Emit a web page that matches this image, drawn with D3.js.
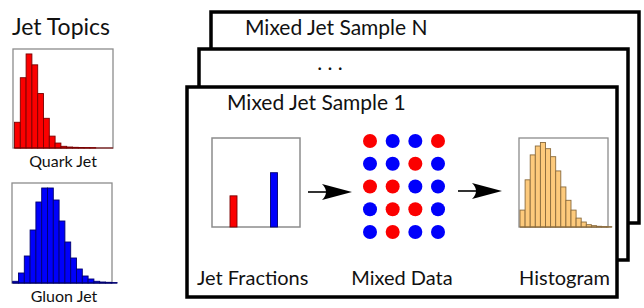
<!DOCTYPE html>
<head>
  <meta charset="utf-8">
  <script src="https://d3js.org/d3.v7.min.js"></script>
  <style>
    body { margin:0; background:#fff; }
    text { font-family: Lato, "Open Sans", sans-serif; fill:#111; }
  </style>
</head>
<body>
  <svg width="644" height="308"></svg>
  <script>
    // bin heights (percent of the panel height)
    var quarkCounts = [26, 71, 95, 84, 55, 30, 12, 5, 1.7, 1, 0.7, 0.5, 0.4, 0.3, 0, 0, 0];
    var gluonCounts = [1.7, 10, 27, 53, 81, 95, 95, 83, 62, 41, 25, 14, 7, 4, 1.7, 1, 0.7, 0.4];
    var mixedCounts = [19, 53, 81, 91, 95, 88, 79, 63, 45, 30, 19, 10, 5.6, 2.6, 1.5, 0.8, 0.4, 0.3];

    var fractionNames = ["quark", "gluon"];
    var fractionValues = [0.35, 0.61];

    // mixed data grid, q = quark (red), g = gluon (blue)
    var dotRows = [
      ["q", "g", "g", "q"],
      ["g", "g", "q", "g"],
      ["q", "q", "g", "g"],
      ["g", "q", "q", "g"],
      ["g", "q", "g", "g"]
    ];

    var sampleTitles = ["Mixed Jet Sample N", ". . .", "Mixed Jet Sample 1"];
    var stepLabels = ["Jet Fractions", "Mixed Data", "Histogram"];

    var red = "#fb0000", blue = "#0000fb";
    var svg = d3.select("svg");

    // ---- jet topics on the left
    svg.append("text").attr("x", 12).attr("y", 35)
      .style("font-size", "23px").text("Jet Topics");

    function histo(g, counts, box, start, bw, fill, stroke) {
      var x = d3.scaleLinear().domain([0, counts.length]).range([start, start + counts.length * bw]);
      var y = d3.scaleLinear().domain([0, 100]).range([box.y + box.h, box.y]);
      g.append("rect").attr("x", box.x).attr("y", box.y)
        .attr("width", box.w).attr("height", box.h)
        .attr("fill", "#fff").attr("stroke", "#8c8c8c").attr("stroke-width", 1.3);
      g.selectAll(".bin").data(counts).enter().append("rect")
        .attr("x", function(d, i) { return x(i); })
        .attr("y", function(d) { return y(d); })
        .attr("width", bw)
        .attr("height", function(d) { return y(0) - y(d); })
        .attr("fill", fill).attr("stroke", stroke).attr("stroke-width", 0.9);
      g.append("line").attr("x1", start).attr("x2", x(counts.length))
        .attr("y1", y(0)).attr("y2", y(0)).attr("stroke", stroke).attr("stroke-width", 1);
    }

    histo(svg.append("g"), quarkCounts, {x: 13, y: 49, w: 100, h: 99}, 14.5, 5.8, red, "#7a0000");
    svg.append("text").attr("x", 63).attr("y", 167).attr("text-anchor", "middle")
      .style("font-size", "16px").text("Quark Jet");

    histo(svg.append("g"), gluonCounts, {x: 12, y: 183, w: 100, h: 100}, 12.7, 5.8, blue, "#00006e");
    svg.append("text").attr("x", 64).attr("y", 302).attr("text-anchor", "middle")
      .style("font-size", "16px").text("Gluon Jet");

    // ---- stacked sample frames
    var frames = [
      {x: 211, y: 12, x2: 639, y2: 223},
      {x: 199, y: 49, x2: 628, y2: 260},
      {x: 187, y: 87, x2: 617, y2: 297}
    ];
    frames.forEach(function(f, i) {
      svg.append("rect").attr("x", f.x).attr("y", f.y)
        .attr("width", f.x2 - f.x).attr("height", f.y2 - f.y)
        .attr("fill", "#fff").attr("stroke", "#000").attr("stroke-width", 3.5);
    });
    svg.append("text").attr("x", 245).attr("y", 35).style("font-size", "21px").text(sampleTitles[0]);
    svg.append("text").attr("x", 330).attr("y", 70).attr("text-anchor", "middle")
      .style("font-size", "21px").text(sampleTitles[1]);
    svg.append("text").attr("x", 227).attr("y", 110).style("font-size", "21px").text(sampleTitles[2]);

    // ---- jet fractions
    var fr = svg.append("g");
    var fx = d3.scalePoint().domain(fractionNames).range([233.5, 274]);
    var fy = d3.scaleLinear().domain([0, 1]).range([227, 138]);
    fr.append("rect").attr("x", 212).attr("y", 138).attr("width", 88).attr("height", 89)
      .attr("fill", "#fff").attr("stroke", "#8c8c8c").attr("stroke-width", 1.5);
    fr.selectAll(".frac").data(fractionValues).enter().append("rect")
      .attr("x", function(d, i) { return fx(fractionNames[i]) - 3.5; })
      .attr("y", function(d) { return fy(d); })
      .attr("width", 7)
      .attr("height", function(d) { return fy(0) - fy(d); })
      .attr("fill", function(d, i) { return i == 0 ? red : blue; })
      .attr("stroke", function(d, i) { return i == 0 ? "#7a0000" : "#00006e"; })
      .attr("stroke-width", 0.9);

    // ---- arrows
    function arrow(x1, x2, y) {
      svg.append("line").attr("x1", x1).attr("x2", x2 - 20).attr("y1", y).attr("y2", y)
        .attr("stroke", "#000").attr("stroke-width", 1.6);
      svg.append("path")
        .attr("d", "M" + x2 + "," + y + " L" + (x2 - 30) + "," + (y - 8) +
          " Q" + (x2 - 22) + "," + y + " " + (x2 - 30) + "," + (y + 8) + " Z")
        .attr("fill", "#000");
    }
    arrow(308, 352, 192);
    arrow(458, 502, 191);

    // ---- mixed data dots
    var cols = d3.range(4), rows = d3.range(dotRows.length);
    var dx = d3.scalePoint().domain(cols).range([370, 438]);
    var dy = d3.scalePoint().domain(rows).range([141, 232]);
    var cells = [];
    dotRows.forEach(function(r, ri) { r.forEach(function(c, ci) { cells.push({r: ri, c: ci, t: c}); }); });
    svg.selectAll(".dot").data(cells).enter().append("circle")
      .attr("cx", function(d) { return dx(d.c); })
      .attr("cy", function(d) { return dy(d.r); })
      .attr("r", 7)
      .attr("fill", function(d) { return d.t == "q" ? red : blue; });

    // ---- mixed histogram
    histo(svg.append("g"), mixedCounts, {x: 519, y: 138, w: 89, h: 89}, 520, 5.1, "#fdca7c", "#8a6b3c");

    // ---- step labels
    svg.append("text").attr("x", 197).attr("y", 285).style("font-size", "20px").text(stepLabels[0]);
    svg.append("text").attr("x", 402).attr("y", 285).attr("text-anchor", "middle").style("font-size", "20px").text(stepLabels[1]);
    svg.append("text").attr("x", 610).attr("y", 285).attr("text-anchor", "end").style("font-size", "20px").text(stepLabels[2]);
  </script>
</body>
